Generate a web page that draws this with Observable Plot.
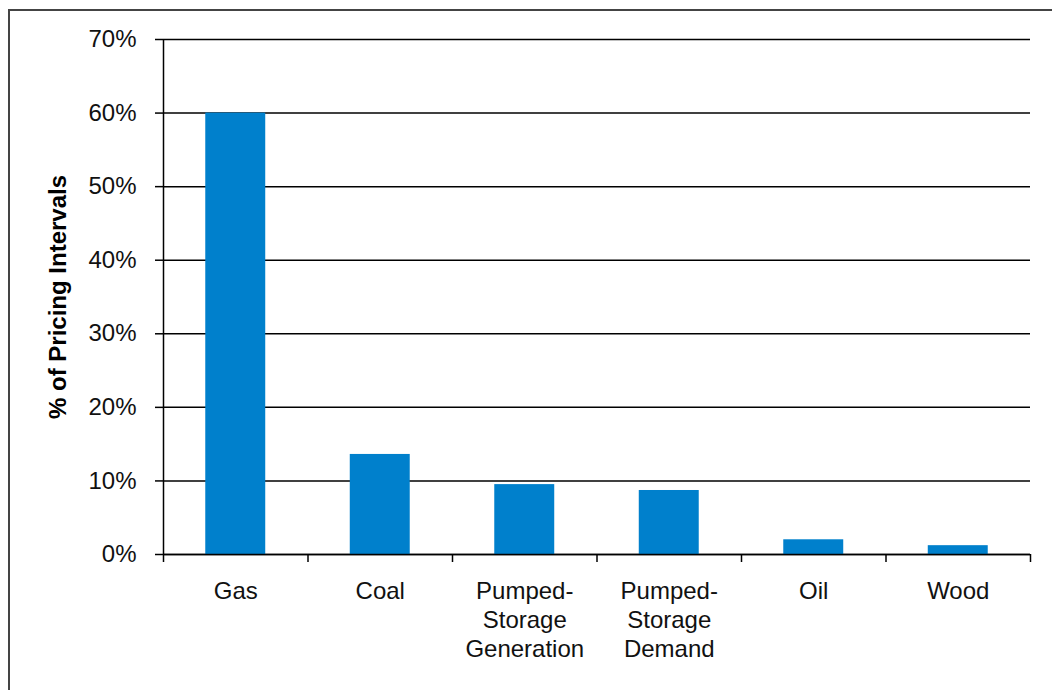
<!DOCTYPE html>
<html>
<head>
<meta charset="utf-8">
<script src="https://cdn.jsdelivr.net/npm/d3@7"></script>
<script src="https://cdn.jsdelivr.net/npm/@observablehq/plot@0.6"></script>
<style>
  body { margin: 0; background: #fff; }
  #wrap { position: relative; width: 1052px; height: 690px; overflow: hidden; background: #fff; }
  #border { position: absolute; left: 8px; top: 9px; width: 1100px; height: 800px; border: 2px solid #444; }
  #chart { position: absolute; left: 0; top: 0; }
</style>
</head>
<body>
<div id="wrap"><div id="border"></div><div id="chart"></div></div>
<script>
// Share of pricing intervals by marginal fuel type
const categories = ["Gas", "Coal", "Pumped-\nStorage\nGeneration", "Pumped-\nStorage\nDemand", "Oil", "Wood"];
const values = [0.60, 0.136, 0.095, 0.087, 0.020, 0.012];
const yTicks = [0, 0.1, 0.2, 0.3, 0.4, 0.5, 0.6, 0.7];
const yTitle = "% of Pricing Intervals";

const data = categories.map((category, index) => ({category, index, value: values[index]}));
const barHalf = 0.2075; // half of bar width, in category units
const boundaries = d3.range(0, categories.length + 1);
const centers = categories.map((_, i) => i + 0.5);

const chart = Plot.plot({
  width: 1052,
  height: 690,
  marginLeft: 163,
  marginRight: 22,
  marginTop: 39,
  marginBottom: 136,
  style: {fontFamily: "'Liberation Sans', Arial, sans-serif", fontSize: "24px", color: "#111", background: "transparent"},
  x: {type: "linear", domain: [0, categories.length]},
  y: {domain: [0, 0.7]},
  marks: [
    Plot.ruleY(yTicks, {stroke: "#000", strokeWidth: 1.5}),
    Plot.rectY(data, {
      x1: d => d.index + 0.5 - barHalf,
      x2: d => d.index + 0.5 + barHalf,
      y1: 0,
      y2: "value",
      fill: "#0080cc"
    }),
    Plot.ruleY([0], {stroke: "#000", strokeWidth: 1.5}),
    Plot.ruleX([0], {y1: 0, y2: 0.7, stroke: "#000", strokeWidth: 1.5}),
    Plot.axisY({ticks: yTicks, tickFormat: d3.format(".0%"), tickSize: 8, tickPadding: 19, label: null, stroke: "#000", strokeWidth: 1.5}),
    Plot.axisX({ticks: boundaries, tickSize: 8, tickFormat: () => "", label: null, stroke: "#000", strokeWidth: 1.5}),
    Plot.axisX({ticks: centers, tickSize: 0, tickPadding: 24, tickFormat: v => categories[Math.floor(v)], lineHeight: 1.2, label: null}),
    Plot.text([yTitle], {frameAnchor: "left", textAnchor: "middle", rotate: -90, dx: -105, fontWeight: "bold", fontSize: 24, fill: "#000"})
  ]
});
document.getElementById("chart").append(chart);
</script>
</body>
</html>
